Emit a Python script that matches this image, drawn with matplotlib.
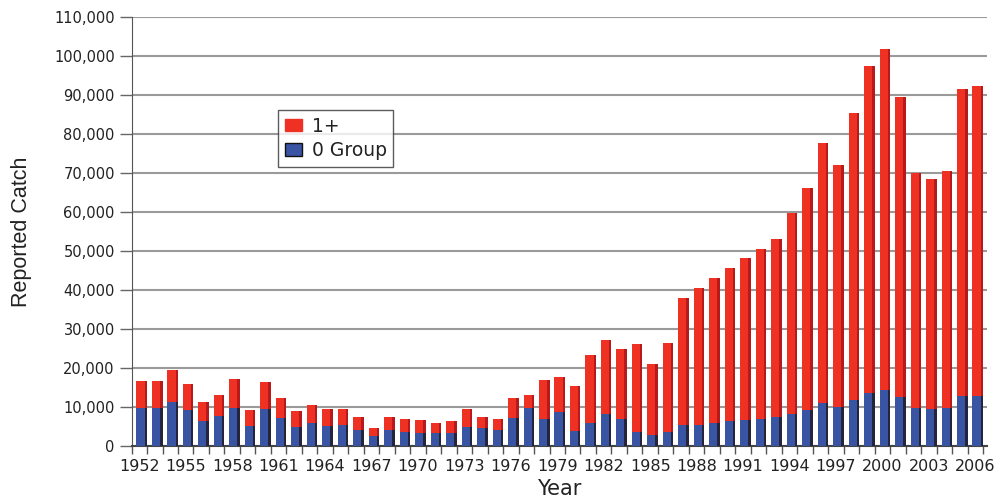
import matplotlib
matplotlib.use('Agg')
import matplotlib.pyplot as plt
import matplotlib.ticker as mticker
import numpy as np
from matplotlib.patches import Patch

years = list(range(1952, 2007))

zero_group = [9700, 9700, 11400, 9200, 6500, 7600, 9800, 5200, 9500, 7100,
              5000, 5800, 5200, 5400, 4200, 2500, 4200, 3700, 3300, 3400,
              3400, 5000, 4500, 4200, 7200, 9800, 7000, 8800, 3900, 6000,
              8200, 6800, 3600, 2900, 3700, 5300, 5500, 6000, 6300, 6600,
              7000, 7400, 8300, 9200, 10900, 10000, 11900, 13600, 14300, 12500,
              9700, 9500, 9800, 12700, 12800]

one_plus = [7000, 7000, 8200, 6700, 4900, 5600, 7500, 4100, 7000, 5200,
            3900, 4600, 4300, 4200, 3200, 2100, 3200, 3100, 3400, 2500,
            2900, 4600, 2900, 2800, 5100, 3400, 9900, 9000, 11600, 17300,
            19000, 18200, 22600, 18200, 22700, 32700, 35000, 37100, 39300, 41500,
            43600, 45800, 51500, 57000, 66800, 62000, 73400, 83800, 87500, 77000,
            60200, 59000, 60800, 78900, 79400]

label_years = list(range(1952, 2007, 3))

red = '#ef3124'
red_side = '#b81a1c'
blue = '#3a54a4'
blue_side = '#24243c'
txt = '#222222'

fig = plt.figure(figsize=(9.95, 4.98), dpi=100)
ax = fig.add_axes([0.1322, 0.1044, 0.8598, 0.8615])

x = np.array(years, dtype=float)
front_w = 0.52
front_off = 0.08
side_w = 0.16
side_off = front_off + front_w / 2 + side_w / 2

ax.bar(x + front_off, zero_group, width=front_w, color=blue, zorder=3)
ax.bar(x + front_off, one_plus, width=front_w, bottom=zero_group, color=red, zorder=3)
ax.bar(x + side_off, zero_group, width=side_w, color=blue_side, zorder=3)
ax.bar(x + side_off, one_plus, width=side_w, bottom=zero_group, color=red_side, zorder=3)

ax.set_xlim(1951.5, 2006.76)
ax.set_ylim(0, 110000)

ax.set_xticks(label_years)
ax.set_xticklabels([str(y) for y in label_years])
ax.set_xticks(np.arange(1951.5, 2007, 1), minor=True)
ax.tick_params(axis='x', which='major', length=0, pad=9, labelsize=11.5, labelcolor=txt)
ax.tick_params(axis='x', which='minor', length=6, width=1, color='#555555', direction='out')

ax.yaxis.set_major_locator(mticker.MultipleLocator(10000))
ax.yaxis.set_major_formatter(mticker.FuncFormatter(lambda v, p: '{:,.0f}'.format(v)))
ax.tick_params(axis='y', length=9, width=1, color='#666666', pad=3, labelsize=10.5, labelcolor=txt)

ax.yaxis.grid(True, color='#9a9a9a', linewidth=1.5, zorder=0)
ax.set_axisbelow(True)

for s in ['top', 'right']:
    ax.spines[s].set_visible(False)
ax.spines['left'].set_color('#555555')
ax.spines['bottom'].set_color('#444444')
ax.spines['bottom'].set_linewidth(1.5)

ax.set_xlabel('Year', fontsize=15, color=txt, labelpad=4)
ax.set_ylabel('Reported Catch', fontsize=15.5, color=txt, labelpad=16,
              family=['Liberation Sans Narrow', 'Liberation Sans'])

handles = [Patch(facecolor=red, edgecolor=red, label='1+'),
           Patch(facecolor=blue, edgecolor='#111111', label='0 Group')]
leg = ax.legend(handles=handles, loc='upper left', bbox_to_anchor=(0.2794, 0.779),
                bbox_transform=fig.transFigure, fontsize=13.5, frameon=True,
                fancybox=False, borderaxespad=0, handlelength=0.95,
                handleheight=0.65, handletextpad=0.5, labelspacing=0.3,
                borderpad=0.35)
leg.get_frame().set_edgecolor('#333333')
leg.get_frame().set_linewidth(1.0)
for t in leg.get_texts():
    t.set_color(txt)

plt.savefig('out.png', dpi=100)
